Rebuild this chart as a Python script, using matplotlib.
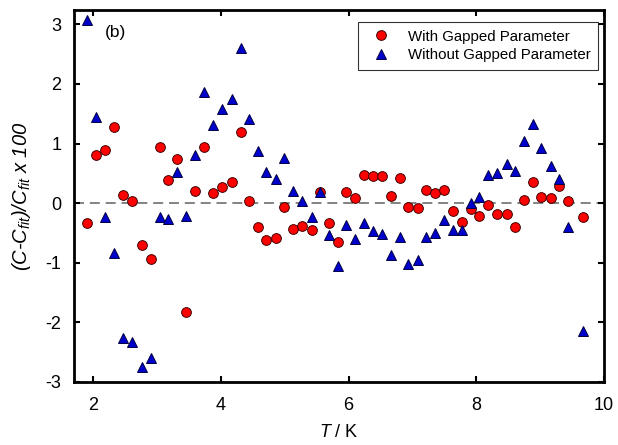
import numpy as np
import matplotlib
matplotlib.use('Agg')
import matplotlib.pyplot as plt

plt.rcParams.update({
    'font.family': 'Liberation Sans',
    'mathtext.fontset': 'custom',
    'mathtext.rm': 'Liberation Sans',
    'mathtext.it': 'Liberation Sans:italic',
    'axes.unicode_minus': False,
})

# --- data ---
T = [1.90, 2.04, 2.19, 2.33, 2.47, 2.61, 2.76, 2.90, 3.04, 3.18,
     3.32, 3.46, 3.60, 3.74, 3.88, 4.02, 4.17, 4.31, 4.44, 4.58,
     4.71, 4.86, 4.99, 5.13, 5.27, 5.42, 5.56, 5.69, 5.83, 5.96,
     6.10, 6.24, 6.38, 6.52, 6.66, 6.80, 6.93, 7.08, 7.21, 7.35,
     7.50, 7.64, 7.77, 7.91, 8.05, 8.19, 8.33, 8.48, 8.61, 8.75,
     8.89, 9.02, 9.17, 9.30, 9.44, 9.67]

with_gap = [-0.34, 0.81, 0.90, 1.27, 0.13, 0.03, -0.70, -0.93, 0.94, 0.39,
            0.74, -1.82, 0.21, 0.94, 0.17, 0.27, 0.35, 1.19, 0.04, -0.40,
            -0.61, -0.59, -0.07, -0.43, -0.38, -0.45, 0.18, -0.34, -0.66, 0.18,
            0.08, 0.47, 0.46, 0.46, 0.12, 0.43, -0.06, -0.08, 0.22, 0.17,
            0.22, -0.14, -0.32, -0.10, -0.21, -0.03, -0.18, -0.18, -0.40, 0.06,
            0.36, 0.10, 0.08, 0.28, 0.04, -0.23]

without_gap = [3.07, 1.44, -0.24, -0.83, -2.26, -2.33, -2.75, -2.60, -0.23, -0.26,
               0.53, -0.21, 0.81, 1.86, 1.31, 1.58, 1.74, 2.61, 1.41, 0.88,
               0.53, 0.41, 0.75, 0.21, 0.04, -0.23, 0.18, -0.54, -1.05, -0.36,
               -0.60, -0.34, -0.46, -0.52, -0.87, -0.57, -1.02, -0.96, -0.57, -0.50,
               -0.28, -0.45, -0.45, 0.00, 0.10, 0.47, 0.50, 0.66, 0.54, 1.04,
               1.32, 0.92, 0.62, 0.41, -0.40, -2.14]

x_ticks = [2, 4, 6, 8, 10]
y_ticks = [-3, -2, -1, 0, 1, 2, 3]

fig = plt.figure(figsize=(6.18, 4.45), dpi=100)
ax = fig.add_axes([0.1197, 0.1416, 0.8576, 0.8359])

ax.axhline(0, color='#6e6e6e', linestyle=(0, (6, 3.5)), linewidth=1.2, zorder=1)

ax.plot(T, with_gap, 'o', color='#ff0000', markeredgecolor='#400000',
        markeredgewidth=0.7, markersize=7, label='With Gapped Parameter', zorder=3)
ax.plot(T, without_gap, '^', color='#0000cc', markeredgecolor='#000040',
        markeredgewidth=0.7, markersize=7.5, label='Without Gapped Parameter', zorder=4)

ax.set_xlim(1.7, 10)
ax.set_ylim(-3, 3.24)
ax.set_xticks(x_ticks)
ax.set_yticks(y_ticks)
ax.tick_params(direction='in', length=4, width=1.5, top=True, right=True,
               labelsize=13)
ax.tick_params(axis='x', pad=11)
ax.tick_params(axis='y', pad=9)
for s in ax.spines.values():
    s.set_linewidth(2)

ax.set_xlabel(r'$T$ / K', fontsize=13)
ax.xaxis.set_label_coords(0.5, -0.113)
ax.set_ylabel(r'(C-C$_{fit}$)/C$_{fit}$ x 100', fontsize=14.5, style='italic')
ax.yaxis.set_label_coords(-0.078, 0.5)

ax.text(0.058, 0.94, '(b)', transform=ax.transAxes, fontsize=12.5, va='center')

leg = ax.legend(loc='upper right', bbox_to_anchor=(0.9887, 0.9677), borderaxespad=0,
                fontsize=10.8, frameon=True, fancybox=False, edgecolor='black',
                handletextpad=0.8, borderpad=0.5, labelspacing=0.3)
leg.get_frame().set_linewidth(0.8)

fig.savefig('out.png', dpi=100)
